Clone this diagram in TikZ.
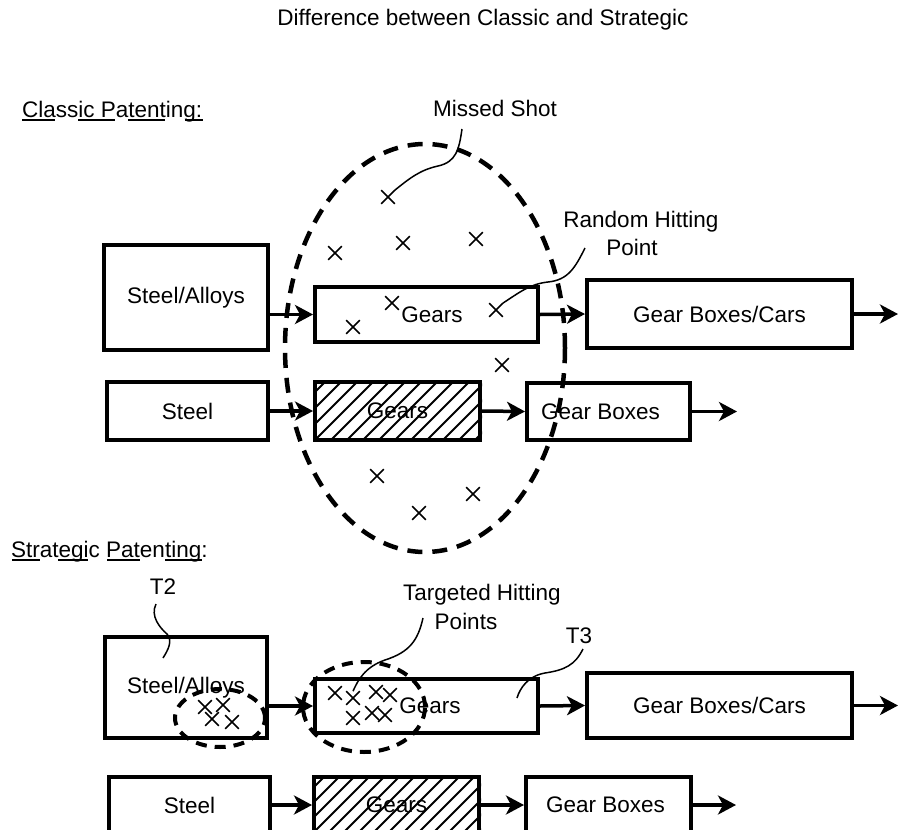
\documentclass[tikz,border=0pt]{standalone}
\usepackage{fontspec}
\setmainfont{Liberation Sans}
\usetikzlibrary{arrows.meta,shapes.misc}
\begin{document}
\begin{tikzpicture}[x=1pt,y=-1pt,
  every node/.style={font=\fontsize{22.5}{25}\selectfont},
  box/.style={draw, line width=4pt, inner sep=0pt},
  arr/.style={line width=3.5pt, -{Stealth[length=18pt,width=19pt,inset=5pt]}},
  xmark/.style={cross out, draw, line width=1.6pt, minimum size=12pt, inner sep=0pt},
  leader/.style={line width=1.5pt},
  bigdash/.style={line width=4.5pt, dash pattern=on 15pt off 10pt},
  smalldash/.style={line width=4pt, dash pattern=on 11pt off 8pt},
  hatchline/.style={line width=1.8pt},
  uline/.style={line width=1.5pt}]
\useasboundingbox (0,0) rectangle (903,830);
\clip (0,0) rectangle (903,830);
\fill[white] (0,0) rectangle (903,830);

% title and section labels
\node (title) at (483,20) {Difference between Classic and Strategic};
\node[anchor=base west, inner sep=0pt] (classic) at (22,117) {Classic Patenting:};
\node[anchor=base west, inner sep=0pt] (strategic) at (11,557) {Strategic Patenting:};
\foreach \a/\b in {22/55, 78/115, 128/165, 185/203} \draw[uline] (\a,120) -- (\b,120);
\foreach \a/\b in {12/40, 58/88, 107/140, 165/202} \draw[uline] (\a,560) -- (\b,560);

% ---------- classic ----------
\node[box, minimum width=164pt, minimum height=105pt] (sa1) at (186,297.5) {Steel/Alloys};
\node[box, minimum width=223pt, minimum height=55pt] (g1) at (426.5,314.5) {\hspace*{11pt}Gears};
\node[box, minimum width=265pt, minimum height=68pt] (gbc1) at (719.5,314) {Gear Boxes/Cars};
\node[box, minimum width=161pt, minimum height=58pt] (st1) at (187.5,411) {Steel};
\node[box, minimum width=165pt, minimum height=58pt] (hg1) at (397.5,411) {Gears};
\node[box, minimum width=163pt, minimum height=57pt] (gb1) at (608.5,411.5) {Gear Boxes\hspace*{16pt}};
\begin{scope}
  \clip (hg1.north west) rectangle (hg1.south east);
  \foreach \i in {-64,-48,...,176} \draw[hatchline] (315+\i,440) -- ++(62,-62);
\end{scope}
\coordinate (e1) at (898,314);
\coordinate (e2) at (737,411.5);
\draw[arr] (sa1.east |- g1.west) -- (g1.west);
\draw[arr] (g1.east) -- (gbc1.west);
\draw[arr] (gbc1.east) -- (e1);
\draw[arr] (st1.east) -- (hg1.west);
\draw[arr] (hg1.east) -- (gb1.west);
\draw[arr] (gb1.east) -- (e2);

\draw[bigdash] (425,348) ellipse [x radius=140pt, y radius=204pt];

\foreach \n/\p in {c1/{(388,197)}, c2/{(335,253)}, c3/{(403,243)}, c4/{(476,239)},
  c5/{(392,303)}, c6/{(353,327)}, c7/{(496,310)}, c8/{(502,365)},
  c9/{(377,476)}, c10/{(473,494)}, c11/{(419,513)}}
  \node[xmark] (\n) at \p {};

\node (missed) at (495,108) {Missed Shot};
\node (random1) at (641,222) {Random Hitting};
\node (random2) at (632,247) {Point};
\coordinate (lm) at (462,129);
\coordinate (lr) at (585,248);
\draw[leader] (lm) .. controls (459,150) and (456,162) .. (438,166)
  .. controls (420,170) and (410,178) .. (c1.north east);
\draw[leader] (lr) .. controls (575,268) and (568,280) .. (548,282)
  .. controls (530,284) and (520,292) .. (c7.north east);

% ---------- strategic ----------
\node[box, minimum width=162pt, minimum height=101pt] (sa2) at (186,687.5) {Steel/Alloys};
\node[box, minimum width=223pt, minimum height=54pt] (g2) at (426.5,706) {\hspace*{7pt}Gears};
\node[box, minimum width=265pt, minimum height=65pt] (gbc2) at (719.5,705.5) {Gear Boxes/Cars};
\node[box, minimum width=161pt, minimum height=56pt] (st2) at (189.5,805) {Steel};
\node[box, minimum width=165pt, minimum height=56pt] (hg2) at (396.5,805) {Gears};
\node[box, minimum width=165pt, minimum height=56pt] (gb2) at (608.5,805) {Gear Boxes\hspace*{6pt}};
\begin{scope}
  \clip (hg2.north west) rectangle (hg2.south east);
  \foreach \i in {-64,-49,...,180} \draw[hatchline] (314+\i,836) -- ++(62,-62);
\end{scope}
\coordinate (e3) at (898,705.5);
\coordinate (e4) at (736,805);
\draw[arr] (sa2.east |- g2.west) -- (g2.west);
\draw[arr] (g2.east) -- (gbc2.west);
\draw[arr] (gbc2.east) -- (e3);
\draw[arr] (st2.east) -- (hg2.west);
\draw[arr] (hg2.east) -- (gb2.west);
\draw[arr] (gb2.east) -- (e4);

\draw[smalldash] (220,718) ellipse [x radius=45pt, y radius=29pt];
\draw[smalldash] (364,707) ellipse [x radius=61pt, y radius=45pt];

\foreach \n/\p in {d1/{(205,707)}, d2/{(223,705)}, d3/{(212,719)}, d4/{(232,722)},
  t1/{(335,693)}, t2/{(353,698)}, t3/{(376,692)}, t4/{(390,695)},
  t5/{(353,718)}, t6/{(372,713)}, t7/{(385,715)}}
  \node[xmark] (\n) at \p {};

\node (T2) at (163,587) {T2};
\node (targ1) at (482,595) {Targeted Hitting};
\node (targ2) at (466,621) {Points};
\node (T3) at (579,636) {T3};
\coordinate (l2) at (156,604);
\coordinate (l2e) at (163,658);
\coordinate (lt) at (423,618);
\coordinate (l3) at (583,649);
\coordinate (l3e) at (517,698);
\draw[leader] (l2) .. controls (150,616) and (160,628) .. (167,634)
  .. controls (173,641) and (168,650) .. (l2e);
\draw[leader] (lt) .. controls (418,640) and (410,652) .. (385,660)
  .. controls (365,667) and (358,680) .. (t2.north);
\draw[leader] (l3) .. controls (575,665) and (565,670) .. (545,673)
  .. controls (528,676) and (520,688) .. (l3e);
\end{tikzpicture}
\end{document}
